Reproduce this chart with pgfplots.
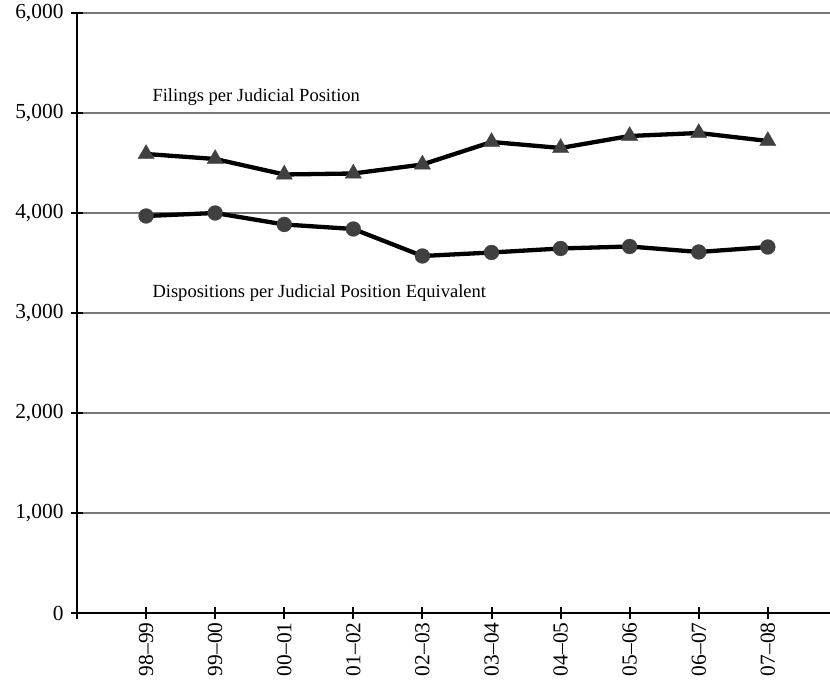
\documentclass[border=0pt]{standalone}
\usepackage{fontspec}
\setmainfont{Liberation Serif}
\usepackage{pgfplots}
\pgfplotsset{compat=1.18}
\definecolor{mk}{HTML}{404040}
\definecolor{gridc}{HTML}{777777}
\begin{document}
\begin{tikzpicture}
\begin{axis}[
  scale only axis, width=753bp, height=600bp,
  xmin=-1, xmax=9.9, ymin=0, ymax=6000,
  axis lines*=left,
  axis line style={line width=2.5bp, black},
  clip=false,
  xtick={-1,0,...,9},
  xticklabels={,98–99,99–00,00–01,01–02,02–03,03–04,04–05,05–06,06–07,07–08},
  ytick={0,1000,...,6000},
  tick align=center,
  major tick length=12bp,
  tick style={line width=2bp, black},
  ymajorgrids,
  grid style={line width=1.5bp, gridc},
  tick label style={font=\fontsize{21.5}{25}\selectfont},
  xticklabel style={rotate=90, anchor=east},
  yticklabel style={xshift=-4bp},
  /pgf/number format/1000 sep={,},
  /pgf/number format/assume math mode=true,
]
\addplot[line width=4.3bp, black, mark=triangle*, mark size=9.5bp,
  mark options={solid, fill=mk, draw=mk, line width=0.2bp}] coordinates {
  (0,4590) (1,4540) (2,4385) (3,4395) (4,4485) (5,4710) (6,4650) (7,4770) (8,4800) (9,4720)
};
\addplot[line width=4.3bp, black, mark=*, mark size=7.5bp,
  mark options={solid, fill=mk, draw=mk, line width=0.2bp}] coordinates {
  (0,3970) (1,4000) (2,3885) (3,3840) (4,3570) (5,3605) (6,3645) (7,3665) (8,3610) (9,3660)
};
\node[anchor=base west, inner sep=0pt, font=\fontsize{18.6}{22}\selectfont] at (axis cs:0.09,5110) {Filings per Judicial Position};
\node[anchor=base west, inner sep=0pt, font=\fontsize{18.6}{22}\selectfont] at (axis cs:0.09,3150) {Dispositions per Judicial Position Equivalent};
\coordinate (bl) at ([shift={(-77bp,-72bp)}]rel axis cs:0,0);
\coordinate (tr) at ([shift={(0bp,13bp)}]rel axis cs:1,1);
\end{axis}
\pgfresetboundingbox
\path (bl) rectangle (tr);
\end{tikzpicture}
\end{document}
